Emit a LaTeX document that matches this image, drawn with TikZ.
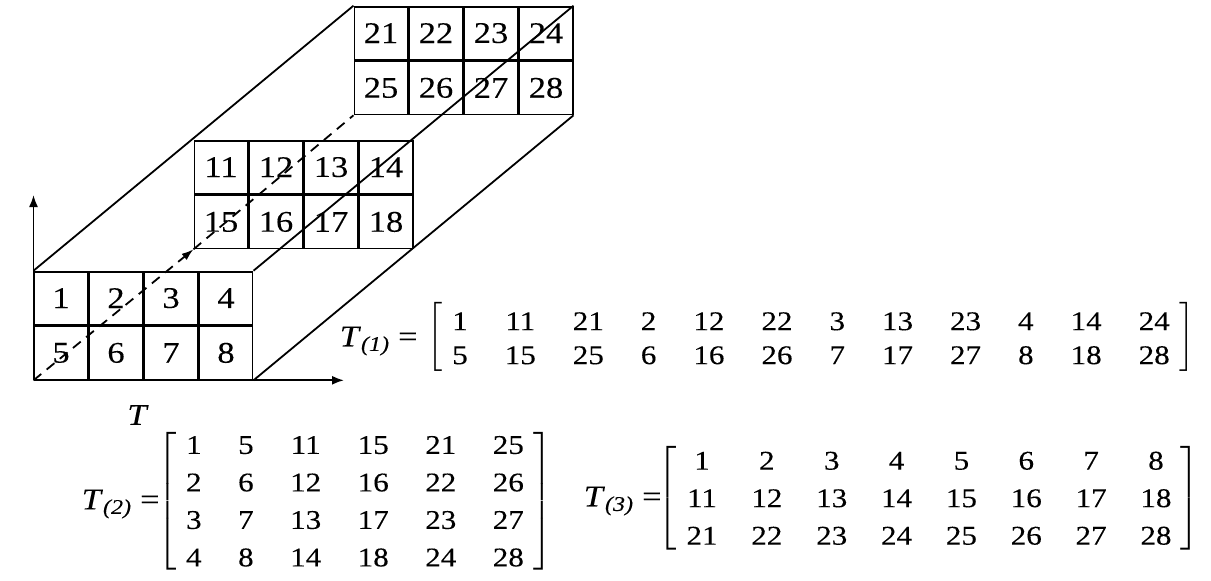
\documentclass[tikz,border=0pt]{standalone}
\usepackage{amsmath}
\usepackage{fontspec}
\setmainfont[FakeStretch=1.15, FakeBold=0.15]{Liberation Serif}
\usetikzlibrary{matrix,arrows.meta}

\tikzset{
  cell/.style={draw, line width=0.9pt, minimum width=26.6pt, minimum height=26.5pt,
    inner sep=0pt, outer sep=0pt, anchor=center, font=\fontsize{15}{18}\selectfont},
  slab/.style={matrix of nodes, nodes={cell}, inner sep=0pt, outer sep=0pt,
    column sep=0pt, row sep=0pt},
  mat/.style={matrix of nodes, column sep=18.5pt, row sep=#1,
    nodes={anchor=base, inner sep=0pt, text height=9.1pt, text depth=0pt},
    left delimiter={[}, right delimiter={]}},
  edge/.style={line width=0.9pt},
  axis/.style={line width=0.9pt, -{Latex[length=6pt,width=4.5pt]}},
  tlabel/.style={anchor=east, inner sep=0pt, font=\fontsize{15}{18}\selectfont},
}

\begin{document}
\begin{tikzpicture}[x=0.5pt, y=-0.5pt, font=\fontsize{13.5}{16}\selectfont]
\useasboundingbox (0,0) rectangle (1211,580);

% the three slabs of T
\matrix (back) [slab] at (463.5,60.5) {
21 & 22 & 23 & 24 \\
25 & 26 & 27 & 28 \\
};
\matrix (mid) [slab] at (303.5,194.5) {
11 & 12 & 13 & 14 \\
15 & 16 & 17 & 18 \\
};
\matrix (front) [slab] at (143.5,325.5) {
1 & 2 & 3 & 4 \\
5 & 6 & 7 & 8 \\
};

\draw[edge] (front.north west) -- (back.north west);
\draw[edge] (front.north east) -- (back.north east);
\draw[edge] (front.south east) -- (back.south east);
\draw[edge, dash pattern=on 5pt off 3.5pt, -{Latex[length=6pt,width=4pt]}] (front.south west) -- (mid.south west);
\draw[edge, dash pattern=on 5pt off 3.5pt] (mid.south west) -- (back.south west);

% axes
\coordinate (ytip) at (front.south west |- 0,195);
\coordinate (xtip) at (front.south west -| 344,0);
\draw[axis] (front.south west) -- (ytip);
\draw[axis] (front.south west) -- (xtip);
\node[font=\fontsize{15}{18}\selectfont] (Tname) at (138,415) {\textit{T}};

% unfoldings
\matrix (Tone) [mat=7.9pt] at (811,338) {
1 & 11 & 21 & 2 & 12 & 22 & 3 & 13 & 23 & 4 & 14 & 24 \\
5 & 15 & 25 & 6 & 16 & 26 & 7 & 17 & 27 & 8 & 18 & 28 \\
};
\node[tlabel] (Tonename) at (418,341) {\textit{T}\textsubscript{\textit{(1)}}\hspace{4pt}=};

\matrix (Ttwo) [mat=9.65pt, column sep=18.25pt] at (355,501) {
1 & 5 & 11 & 15 & 21 & 25 \\
2 & 6 & 12 & 16 & 22 & 26 \\
3 & 7 & 13 & 17 & 23 & 27 \\
4 & 8 & 14 & 18 & 24 & 28 \\
};
\node[tlabel] (Ttwoname) at (160,504) {\textit{T}\textsubscript{\textit{(2)}}\hspace{4pt}=};

\matrix (Tthree) [mat=9.65pt, column sep=16.9pt] at (929,498) {
1 & 2 & 3 & 4 & 5 & 6 & 7 & 8 \\
11 & 12 & 13 & 14 & 15 & 16 & 17 & 18 \\
21 & 22 & 23 & 24 & 25 & 26 & 27 & 28 \\
};
\node[tlabel] (Tthreename) at (662,501) {\textit{T}\textsubscript{\textit{(3)}}\hspace{4pt}=};
\end{tikzpicture}
\end{document}
